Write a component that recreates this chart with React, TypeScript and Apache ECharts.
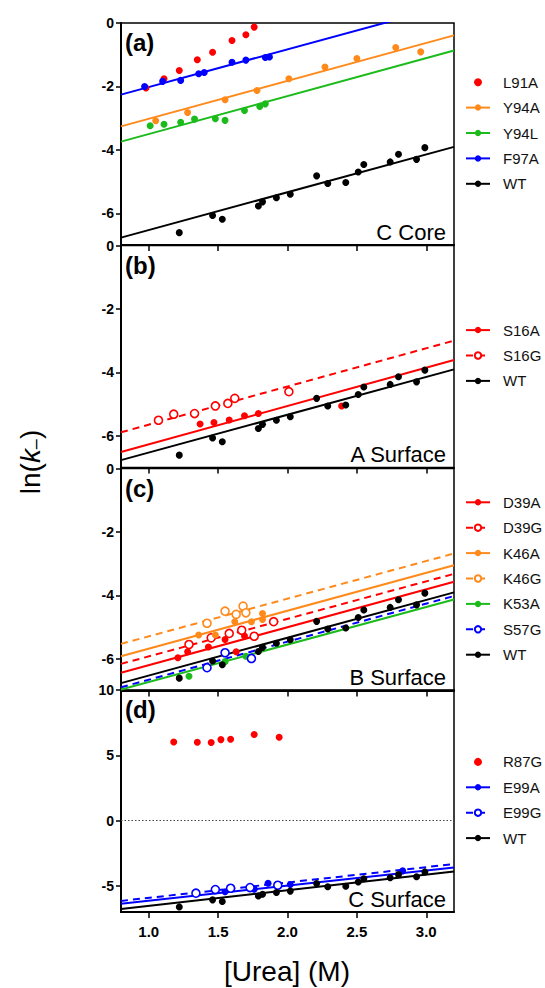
import React, { useEffect, useRef } from 'react';
import * as echarts from 'echarts';

// ---------- data ----------
const xTicks = [1.0, 1.5, 2.0, 2.5, 3.0];
const yTicksABC = [0, -2, -4, -6];
const yTicksD = [-5, 0, 5, 10];

const wtX = [1.22, 1.46, 1.53, 1.79, 1.82, 1.92, 2.02, 2.21, 2.29, 2.42, 2.51, 2.55, 2.74, 2.80, 2.93, 2.99];
const wtY = [-6.61, -6.07, -6.19, -5.77, -5.64, -5.51, -5.40, -4.82, -5.06, -5.03, -4.70, -4.46, -4.38, -4.14, -4.30, -3.93];
const wtFit = [-7.72, 1.192]; // [intercept, slope]

const l91aX = [0.98, 1.11, 1.22, 1.35, 1.46, 1.60, 1.70, 1.76];
const l91aY = [-2.05, -1.76, -1.50, -1.16, -0.92, -0.55, -0.37, -0.13];

const y94aX = [1.05, 1.28, 1.55, 1.78, 2.01, 2.27, 2.50, 2.78, 2.96];
const y94aY = [-3.08, -2.82, -2.42, -2.13, -1.76, -1.39, -1.12, -0.77, -0.91];
const y94aFit = [-4.217, 1.196];

const y94lX = [1.01, 1.11, 1.23, 1.33, 1.48, 1.55, 1.69, 1.80, 1.84];
const y94lY = [-3.24, -3.19, -3.13, -3.03, -3.02, -3.07, -2.76, -2.63, -2.55];
const y94lFit = [-4.697, 1.196];

const f97aX = [0.97, 1.10, 1.23, 1.36, 1.40, 1.60, 1.70, 1.84, 1.87];
const f97aY = [-2.00, -1.84, -1.81, -1.60, -1.56, -1.24, -1.17, -1.09, -1.07];
const f97aFit = [-3.21, 1.19];

const s16aX = [1.37, 1.47, 1.58, 1.69, 1.79, 2.39];
const s16aY = [-5.63, -5.58, -5.50, -5.37, -5.30, -5.06];
const s16aFit = [-7.477, 1.208];

const s16gX = [1.07, 1.18, 1.33, 1.48, 1.57, 1.62, 2.01];
const s16gY = [-5.51, -5.32, -5.30, -5.06, -4.98, -4.82, -4.61];
const s16gFit = [-6.853, 1.204];

const d39aX = [1.21, 1.28, 1.43, 1.55, 1.63, 1.69];
const d39aY = [-5.97, -5.78, -5.63, -5.39, -5.78, -5.28];
const d39aFit = [-7.397, 1.196];

const d39gX = [1.29, 1.45, 1.58, 1.67, 1.76, 1.90];
const d39gY = [-5.55, -5.34, -5.20, -5.10, -5.29, -4.83];
const d39gFit = [-7.107, 1.183];

const k46aX = [1.36, 1.48, 1.62, 1.74, 1.82, 1.82];
const k46aY = [-5.25, -5.25, -4.83, -4.83, -4.57, -4.76];
const k46aFit = [-6.877, 1.196];

const k46gX = [1.42, 1.55, 1.63, 1.68, 1.70];
const k46gY = [-4.88, -4.50, -4.60, -4.34, -4.55];
const k46gFit = [-6.48, 1.1875];

const k53aX = [1.29, 1.55, 1.70];
const k53aY = [-6.55, -6.09, -5.92];
const k53aFit = [-7.917, 1.183];

const s57gX = [1.42, 1.55, 1.74];
const s57gY = [-6.28, -5.81, -5.99];
const s57gFit = [-7.86, 1.2];

const r87gX = [1.18, 1.35, 1.45, 1.52, 1.59, 1.76, 1.94];
const r87gY = [6.02, 6.00, 5.98, 6.20, 6.23, 6.59, 6.38];

const e99aX = [1.55, 1.76, 1.86, 2.02, 2.83];
const e99aY = [-5.45, -5.25, -4.80, -4.90, -3.85];
const e99aFit = [-7.283, 1.154];

const e99gX = [1.34, 1.48, 1.59, 1.73, 1.93];
const e99gY = [-5.56, -5.28, -5.18, -5.13, -4.95];
const e99gFit = [-7.09, 1.175];

// ---------- styles ----------
const RED = '#ff0000';
const ORANGE = '#ff8a1c';
const GREEN = '#1cbb1c';
const BLUE = '#0000ff';
const BLACK = '#000000';
const FONT = '"Liberation Sans", Arial, Helvetica, sans-serif';

type Item = { name: string; x: number[]; y: number[]; color: string; open?: boolean; fit?: number[]; dashed?: boolean };

const panels: { items: Item[]; label: string; region: string; yMin: number; yMax: number; yTicks: number[] }[] = [
  {
    label: '(a)', region: 'C Core', yMin: -7, yMax: 0, yTicks: yTicksABC,
    items: [
      { name: 'L91A', x: l91aX, y: l91aY, color: RED },
      { name: 'Y94A', x: y94aX, y: y94aY, color: ORANGE, fit: y94aFit },
      { name: 'Y94L', x: y94lX, y: y94lY, color: GREEN, fit: y94lFit },
      { name: 'F97A', x: f97aX, y: f97aY, color: BLUE, fit: f97aFit },
      { name: 'WT', x: wtX, y: wtY, color: BLACK, fit: wtFit },
    ],
  },
  {
    label: '(b)', region: 'A Surface', yMin: -7, yMax: 0, yTicks: yTicksABC,
    items: [
      { name: 'S16A', x: s16aX, y: s16aY, color: RED, fit: s16aFit },
      { name: 'S16G', x: s16gX, y: s16gY, color: RED, fit: s16gFit, open: true, dashed: true },
      { name: 'WT', x: wtX, y: wtY, color: BLACK, fit: wtFit },
    ],
  },
  {
    label: '(c)', region: 'B Surface', yMin: -7, yMax: 0, yTicks: yTicksABC,
    items: [
      { name: 'D39A', x: d39aX, y: d39aY, color: RED, fit: d39aFit },
      { name: 'D39G', x: d39gX, y: d39gY, color: RED, fit: d39gFit, open: true, dashed: true },
      { name: 'K46A', x: k46aX, y: k46aY, color: ORANGE, fit: k46aFit },
      { name: 'K46G', x: k46gX, y: k46gY, color: ORANGE, fit: k46gFit, open: true, dashed: true },
      { name: 'K53A', x: k53aX, y: k53aY, color: GREEN, fit: k53aFit },
      { name: 'S57G', x: s57gX, y: s57gY, color: BLUE, fit: s57gFit, open: true, dashed: true },
      { name: 'WT', x: wtX, y: wtY, color: BLACK, fit: wtFit },
    ],
  },
  {
    label: '(d)', region: 'C Surface', yMin: -7, yMax: 10, yTicks: yTicksD,
    items: [
      { name: 'R87G', x: r87gX, y: r87gY, color: RED },
      { name: 'E99A', x: e99aX, y: e99aY, color: BLUE, fit: e99aFit },
      { name: 'E99G', x: e99gX, y: e99gY, color: BLUE, fit: e99gFit, open: true, dashed: true },
      { name: 'WT', x: wtX, y: wtY, color: BLACK, fit: wtFit },
    ],
  },
];

const X_MIN = 0.8;
const X_MAX = 3.2;
const GRID_LEFT = 121;
const GRID_WIDTH = 333;
const GRID_TOPS = [23, 245.5, 468.5, 690];
const GRID_HEIGHT = 222;
const LEGEND_SPACING = 25.4;

function buildOption(): any {
  const grid = GRID_TOPS.map((t) => ({
    left: GRID_LEFT, top: t, width: GRID_WIDTH, height: GRID_HEIGHT,
    show: true, borderColor: '#000', borderWidth: 1.5, backgroundColor: 'transparent',
  }));

  const xAxis = GRID_TOPS.map((_, i) => ({
    type: 'value', gridIndex: i, min: X_MIN, max: X_MAX,
    axisLine: { show: true, onZero: false, lineStyle: { color: '#000', width: 2 } },
    axisTick: { show: true, inside: false, length: 6, lineStyle: { color: '#000', width: 1.5 }, customValues: xTicks },
    axisLabel: {
      show: i === 3, customValues: xTicks, margin: 12,
      fontSize: 15, fontWeight: 'bold', color: '#000', fontFamily: FONT,
      formatter: (v: number) => v.toFixed(1),
    },
    splitLine: { show: false },
  }));

  const yAxis = panels.map((p, i) => ({
    type: 'value', gridIndex: i, min: p.yMin, max: p.yMax,
    axisLine: { show: true, onZero: false, lineStyle: { color: '#000', width: 2 } },
    axisTick: { show: true, inside: false, length: 5, lineStyle: { color: '#000', width: 1.5 }, customValues: p.yTicks },
    axisLabel: {
      show: true, customValues: p.yTicks, margin: 7,
      fontSize: 14, fontWeight: 'bold', color: '#000', fontFamily: FONT,
      formatter: (v: number) => String(v),
    },
    splitLine: { show: false },
  }));

  const series: any[] = [];
  panels.forEach((p, i) => {
    p.items.forEach((it) => {
      if (it.fit) {
        const [a, b] = it.fit;
        series.push({
          name: it.name, type: 'line', xAxisIndex: i, yAxisIndex: i,
          data: [[X_MIN, a + b * X_MIN], [X_MAX, a + b * X_MAX]],
          showSymbol: false, symbol: it.open ? 'emptyCircle' : 'circle', symbolSize: 7,
          lineStyle: { color: it.color, width: 2, type: it.dashed ? [7, 5] : 'solid' },
          itemStyle: { color: it.color },
          clip: true, silent: true, z: 2,
        });
      }
      series.push({
        name: it.fit ? it.name + ' data' : it.name, type: 'scatter', xAxisIndex: i, yAxisIndex: i,
        data: it.x.map((x, k) => [x, it.y[k]]),
        symbol: 'circle', symbolSize: it.open ? 8 : 7,
        itemStyle: it.open
          ? { color: '#ffffff', borderColor: it.color, borderWidth: 1.6, opacity: 1 }
          : { color: it.color, opacity: 1 },
        silent: true, z: 3,
      });
    });
  });

  // dotted zero line in panel (d)
  series.push({
    name: 'zero', type: 'line', xAxisIndex: 3, yAxisIndex: 3, data: [], silent: true,
    markLine: {
      silent: true, symbol: 'none', label: { show: false },
      lineStyle: { type: [1.5, 2], color: '#444', width: 1 },
      data: [{ yAxis: 0 }],
    },
  });

  const legend = panels.map((p, i) => {
    const n = p.items.length;
    const center = GRID_TOPS[i] + GRID_HEIGHT / 2 - 1;
    const firstCenter = center - ((n - 1) * LEGEND_SPACING) / 2;
    return {
      data: p.items.map((it) => it.name), orient: 'vertical', left: 465, top: firstCenter - 8,
      padding: 0,
      itemWidth: 24, itemHeight: 8, itemGap: LEGEND_SPACING - 16, selectedMode: false,
      textStyle: { fontSize: 15, lineHeight: 16, color: '#111', fontFamily: FONT, padding: [0, 0, 0, 8] },
    };
  });

  const graphic: any[] = [];
  panels.forEach((p, i) => {
    graphic.push({
      type: 'text', x: 125, y: GRID_TOPS[i] + 19.5, silent: true,
      style: { text: p.label, fontSize: 24, fontWeight: 'bold', fontFamily: FONT, fill: '#000', align: 'left', verticalAlign: 'middle' },
    });
    graphic.push({
      type: 'text', x: 446, y: GRID_TOPS[i] + GRID_HEIGHT - 13, silent: true,
      style: { text: p.region, fontSize: 22, fill: '#000', fontFamily: FONT, align: 'right', verticalAlign: 'middle' },
    });
  });
  graphic.push({
    type: 'text', x: 287, y: 971, silent: true,
    style: { text: '[Urea] (M)', fontSize: 28, fill: '#000', fontFamily: FONT, align: 'center', verticalAlign: 'middle' },
  });
  graphic.push({
    type: 'text', x: 30, y: 462, rotation: Math.PI / 2, silent: true,
    style: {
      text: '{a|ln(}{k|k}{s|–}{a|)}', fill: '#000', align: 'center', verticalAlign: 'middle',
      rich: {
        a: { fontSize: 28, fontFamily: FONT, fill: '#000' },
        k: { fontSize: 28, fontFamily: FONT, fontStyle: 'italic', fill: '#000' },
        s: { fontSize: 18, fontFamily: FONT, fill: '#000', verticalAlign: 'bottom' },
      },
    },
  });

  return {
    animation: false,
    backgroundColor: '#ffffff',
    textStyle: { fontFamily: FONT },
    grid, xAxis, yAxis, series, legend, graphic,
  };
}

export default function App() {
  const ref = useRef<HTMLDivElement>(null);
  useEffect(() => {
    document.body.style.margin = '0';
    if (!ref.current) return;
    const chart = echarts.init(ref.current, undefined, { renderer: 'svg' });
    chart.setOption(buildOption());
    return () => chart.dispose();
  }, []);
  return <div ref={ref} style={{ width: 545, height: 988 }} />;
}
